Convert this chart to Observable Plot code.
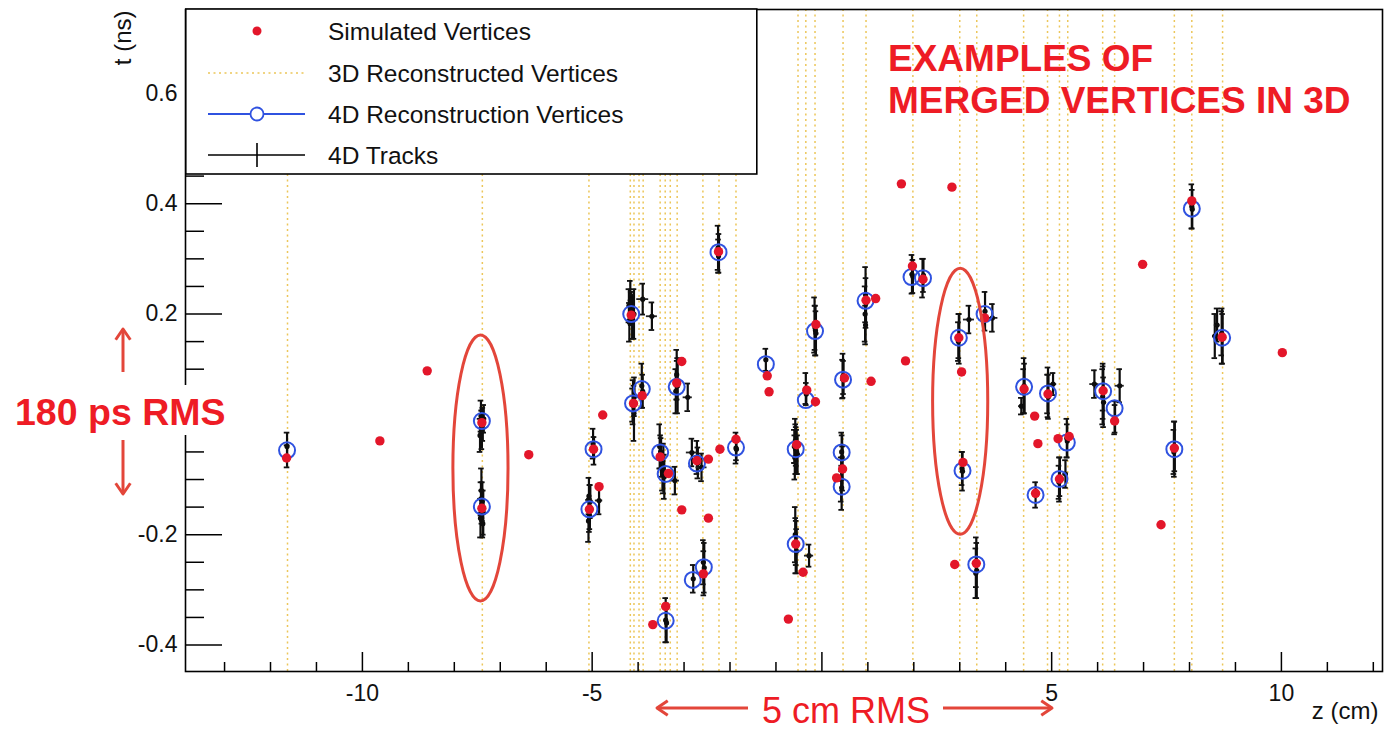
<!DOCTYPE html>
<html><head><meta charset="utf-8">
<script src="https://cdn.jsdelivr.net/npm/d3@7"></script>
<script src="https://cdn.jsdelivr.net/npm/@observablehq/plot@0.6"></script>
<style>
body{margin:0;background:#fff;}
#chart{position:relative;width:1388px;height:734px;}
</style></head><body><div id="chart"></div>
<script>
// ---------------- DATA ----------------
// 3D reconstructed vertices (z positions, cm)
const reco3DZ = [-11.63,-7.39,-5.07,-4.17,-4.09,-3.98,-3.89,-3.52,-3.41,-3.30,-3.15,-2.59,-2.24,-1.87,
  -0.52,-0.35,-0.15,0.46,0.96,1.98,3.00,3.37,4.39,4.91,5.17,5.35,6.11,6.37,7.67,8.05,8.72];

// Simulated vertices
const simZ = [-11.65,-9.62,-8.59,-7.40,-7.40,
  -6.38,-4.77,-4.85,-5.06,-4.97,-4.15,-4.10,-3.91,-3.05,-3.16,-3.52,-3.34,-3.05,-2.72,-2.47,-2.47,-2.22,-1.87,-2.25,-2.58,-3.40,-3.68,
  1.73,2.83,1.97,2.20,1.17,0.96,-0.13,1.82,1.07,0.49,-1.19,-1.15,-0.33,-0.14,2.98,3.04,3.54,-0.55,0.45,0.32,3.07,-0.57,-0.41,-0.73,2.89,3.36,
  8.05,6.98,8.71,4.40,4.92,4.63,6.12,6.37,4.70,5.14,5.38,5.17,4.65,7.67,7.38,10.02];
const simT = [-0.061,-0.030,0.097,0.003,-0.152,
  -0.055,0.017,-0.113,-0.154,-0.045,0.198,0.038,0.052,0.114,0.075,-0.059,-0.089,-0.155,-0.066,-0.063,-0.170,-0.045,-0.027,0.313,-0.271,-0.330,-0.363,
  0.436,0.430,0.287,0.263,0.228,0.225,0.181,0.115,0.078,0.084,0.088,0.059,0.062,0.041,0.157,0.095,0.193,-0.037,-0.081,-0.097,-0.069,-0.217,-0.268,-0.353,-0.254,-0.252,
  0.405,0.290,0.158,0.064,0.055,0.015,0.061,0.006,-0.035,-0.026,-0.022,-0.099,-0.125,-0.043,-0.182,0.130];

// 4D reconstruction vertices
const recoZ = [-11.64,-7.40,-7.40,-4.97,-5.06,-4.15,-4.11,-3.92,-3.16,-3.52,-3.40,-2.72,-1.87,-2.25,-2.81,-2.57,-3.40,
  -1.22,-0.35,-0.15,0.46,0.95,1.95,2.20,2.98,-0.57,0.43,0.43,3.06,-0.57,3.36,3.54,
  8.05,8.71,4.40,4.92,6.12,6.37,5.33,5.17,4.65,7.67];
const recoT = [-0.047,0.006,-0.149,-0.045,-0.154,0.200,0.038,0.064,0.068,-0.051,-0.090,-0.071,-0.042,0.312,-0.282,-0.259,-0.356,
  0.109,0.044,0.169,0.081,0.224,0.267,0.265,0.157,-0.045,-0.051,-0.113,-0.084,-0.217,-0.254,0.200,
  0.391,0.157,0.068,0.056,0.060,0.029,-0.033,-0.099,-0.128,-0.045];

// 4D tracks (z, t, sigma t), grouped by vertex
const trkZ = [
  -11.64,-11.64,
  -7.42,-7.38,-7.40,-7.36,-7.44,-7.40,
  -7.41,-7.39,-7.40,-7.37,-7.43,-7.40,-7.42,-7.38,
  -4.98,-4.96,
  -5.07,-5.05,-5.06,-5.08,-5.04,
  -4.17,-4.15,-4.13,-4.19,-4.09,-4.20,
  -4.11,-4.09,-4.12,-4.08,-3.92,-3.90,
  -3.16,-3.14,-3.18,-3.15,
  -3.53,-3.51,-3.50,-3.45,-3.43,-3.47,
  -2.72,-2.70,
  -2.26,-2.24,-2.25,
  -2.58,-2.56,-2.57,-2.80,
  -3.40,-3.38,
  -1.87,-1.86,
  -1.22,
  -0.16,-0.14,-0.15,-0.13,
  -0.35,-0.34,
  -0.58,-0.56,-0.57,-0.55,-0.59,-0.53,-0.60,
  -0.58,-0.56,-0.57,-0.55,
  0.46,0.45,0.47,
  0.43,0.44,0.42,0.43,0.45,
  0.95,0.96,0.94,0.95,
  1.96,1.98,2.19,2.21,
  2.98,2.99,2.97,
  3.06,3.05,
  3.36,3.37,3.35,
  3.55,
  4.40,4.41,4.39,
  4.92,4.93,4.91,
  5.33,5.34,
  5.17,5.18,5.16,
  4.65,
  6.12,6.11,6.13,6.12,
  6.37,6.38,
  7.67,7.68,7.66,
  8.05,8.06,
  8.71,8.72,8.70];
const trkT = [
  -0.040,-0.058,
  0.015,0.000,-0.010,0.010,-0.020,0.005,
  -0.120,-0.140,-0.150,-0.160,-0.170,-0.145,-0.135,-0.180,
  -0.035,-0.048,
  -0.130,-0.150,-0.165,-0.175,-0.140,
  0.225,0.210,0.195,0.185,0.200,0.215,
  0.040,0.020,0.035,0.050,0.070,0.060,
  0.090,0.070,0.060,0.080,
  -0.040,-0.050,-0.060,-0.080,-0.095,-0.090,
  -0.060,-0.070,
  0.320,0.310,0.305,
  -0.250,-0.260,-0.270,-0.280,
  -0.355,-0.360,
  -0.043,-0.045,
  0.117,
  0.180,0.170,0.175,0.165,
  0.065,0.055,
  -0.030,-0.040,-0.045,-0.050,-0.060,-0.055,-0.040,
  -0.200,-0.215,-0.220,-0.230,
  0.088,0.082,0.085,
  -0.050,-0.060,-0.100,-0.115,-0.080,
  0.235,0.220,0.200,0.180,
  0.272,0.268,0.265,0.270,
  0.160,0.155,0.150,
  -0.085,-0.080,
  -0.250,-0.265,-0.270,
  0.205,
  0.070,0.065,0.060,
  0.058,0.050,0.055,
  -0.025,-0.030,
  -0.100,-0.095,-0.105,
  -0.128,
  0.060,0.050,0.040,0.065,
  0.012,0.010,
  -0.045,-0.040,-0.050,
  0.395,0.390,
  0.160,0.155,0.165];
const trkErrT = [
  0.025,0.020,
  0.028,0.030,0.035,0.025,0.030,0.020,
  0.040,0.035,0.030,0.040,0.035,0.025,0.030,0.025,
  0.027,0.025,
  0.033,0.040,0.030,0.038,0.030,
  0.035,0.030,0.040,0.035,0.045,0.030,
  0.040,0.050,0.030,0.035,0.040,0.030,
  0.045,0.050,0.040,0.035,
  0.040,0.030,0.035,0.045,0.040,0.030,
  0.030,0.028,
  0.040,0.035,0.030,
  0.040,0.045,0.040,0.025,
  0.040,0.035,
  0.028,0.020,
  0.020,
  0.050,0.045,0.040,0.040,
  0.028,0.020,
  0.040,0.035,0.045,0.040,0.040,0.035,0.030,
  0.050,0.040,0.050,0.040,
  0.040,0.035,0.030,
  0.035,0.040,0.040,0.040,0.040,
  0.050,0.045,0.050,0.035,
  0.035,0.030,0.035,0.030,
  0.040,0.045,0.035,
  0.035,0.030,
  0.045,0.050,0.045,
  0.035,
  0.050,0.045,0.040,
  0.045,0.040,0.035,
  0.035,0.030,
  0.040,0.035,0.030,
  0.023,
  0.050,0.050,0.045,0.040,
  0.030,0.025,
  0.050,0.045,0.040,
  0.040,0.035,
  0.050,0.045,0.040];
// 4D tracks with a visible z uncertainty (drawn as crosses)
const crossZ    = [-4.85,-3.90,-3.70,-2.92,-3.20,-2.83,-2.62,-0.28,3.20,3.71,4.34,5.03,5.30,5.93,6.48,8.55,8.60];
const crossT    = [-0.138,0.227,0.196,0.049,-0.102,-0.051,-0.078,-0.238,0.190,0.193,0.033,0.073,-0.090,0.073,0.070,0.160,0.180];
const crossErrT = [0.025,0.028,0.025,0.025,0.025,0.025,0.025,0.020,0.025,0.025,0.015,0.020,0.025,0.025,0.030,0.040,0.030];
const crossErrZ = [0.08,0.13,0.12,0.10,0.10,0.12,0.12,0.10,0.12,0.12,0.06,0.08,0.06,0.10,0.10,0.05,0.06];

// Axis ticks and labels
const xMajorTicks = [-10,-5,0,5,10];
const xMinorTicks = [-13,-12,-11,-9,-8,-7,-6,-4,-3,-2,-1,1,2,3,4,6,7,8,9,11,12];
const xTickLabels = [-10,-5,5,10];
const yMajorTicks = [-0.4,-0.2,0,0.2,0.4,0.6];
const yMinorTicks = [-0.35,-0.3,-0.25,-0.15,-0.1,-0.05,0.05,0.1,0.15,0.25,0.3,0.35,0.45,0.5,0.55,0.65,0.7];
const yTickLabels = [-0.4,-0.2,0.2,0.4,0.6];

const legendLabels = ["Simulated Vertices","3D Reconstructed Vertices","4D Reconstruction Vertices","4D Tracks"];
const xTitle = "z (cm)", yTitle = "t (ns)";
const noteTitle = ["EXAMPLES OF","MERGED VERTICES IN 3D"];
const noteT = "180 ps RMS", noteZ = "5 cm RMS";
// merged-vertex highlight ellipses: center z, center t
const ellipseZ = [-7.42, 3.02];
const ellipseT = [-0.080, 0.041];

// ---------------- LAYOUT ----------------
const W = 1388, H = 734;
const ML = 185, MR = 6, MT = 9, MB = 63;
const xDom = [-13.85, 12.2], yDom = [-0.448, 0.752];
const pxPerZ = (W - ML - MR) / (xDom[1] - xDom[0]);
const pxPerT = (H - MT - MB) / (yDom[1] - yDom[0]);
const zLen = px => px / pxPerZ, tLen = px => px / pxPerT;

const FONT = "'Liberation Sans', Arial, Helvetica, sans-serif";
const RED = "#e3162a", BLUE = "#2f52e0", LINE3D = "#ecc659", ANN = "#e3463a", TXTRED = "#ee1c25";

const sim = simZ.map((z, i) => ({z, t: simT[i]}));
const reco = recoZ.map((z, i) => ({z, t: recoT[i]}));
const tracks = trkZ.map((z, i) => ({z, t: trkT[i], et: trkErrT[i], ez: 0}))
  .concat(crossZ.map((z, i) => ({z, t: crossT[i], et: crossErrT[i], ez: crossErrZ[i]})));
const crosses = tracks.filter(d => d.ez > 0);
const capZ = zLen(2.8);

function annotations(index, scales, values, dims) {
  const g = d3.create("svg:g").attr("font-family", FONT).attr("text-anchor", "start");
  // ellipses
  ellipseZ.forEach((cz, i) => {
    const cx = scales.x(cz), cy = scales.y(ellipseT[i]);
    g.append("ellipse").attr("cx", cx).attr("cy", cy)
      .attr("rx", Math.abs(scales.x(cz + 0.6) - cx)).attr("ry", Math.abs(scales.y(ellipseT[i] + 0.241) - cy))
      .attr("fill", "none").attr("stroke", ANN).attr("stroke-width", 3);
  });
  // 180 ps RMS
  g.append("rect").attr("x", 14).attr("y", 385).attr("width", 220).attr("height", 50).attr("fill", "white");
  g.append("text").attr("x", 15).attr("y", 425).attr("font-size", 37.5).attr("font-weight", "bold")
    .attr("text-anchor", "start").attr("fill", TXTRED).text(noteT);
  const arrow = (x1, y1, x2, y2) => {
    g.append("line").attr("x1", x1).attr("y1", y1).attr("x2", x2).attr("y2", y2)
      .attr("stroke", ANN).attr("stroke-width", 3);
    const a = Math.atan2(y2 - y1, x2 - x1), L = 13, s = 0.6;
    g.append("polyline").attr("points",
      `${x2 - L*Math.cos(a - s)},${y2 - L*Math.sin(a - s)} ${x2},${y2} ${x2 - L*Math.cos(a + s)},${y2 - L*Math.sin(a + s)}`)
      .attr("fill", "none").attr("stroke", ANN).attr("stroke-width", 3).attr("stroke-linejoin", "round");
  };
  arrow(123, 372, 123, 329);
  arrow(123, 440, 123, 494);
  // 5 cm RMS
  g.append("text").attr("x", 846).attr("y", 723).attr("font-size", 36).attr("text-anchor", "middle")
    .attr("fill", TXTRED).text(noteZ);
  arrow(748, 708, 657, 708);
  arrow(943, 708, 1052, 708);
  // title note
  noteTitle.forEach((s, i) => g.append("text").attr("x", 888).attr("y", 71 + i * 42)
    .attr("font-size", 37).attr("font-weight", "bold").attr("text-anchor", "start").attr("fill", TXTRED).text(s));
  return g.node();
}

function legend(index, scales, values, dims) {
  const x0 = dims.marginLeft, y0 = dims.marginTop;
  const g = d3.create("svg:g").attr("font-family", FONT).attr("text-anchor", "start");
  g.append("rect").attr("x", x0 + 0.8).attr("y", y0).attr("width", 571).attr("height", 165)
    .attr("fill", "white").attr("stroke", "black").attr("stroke-width", 1.6);
  const rowY = [22, 64, 105, 146].map(v => v + y0);
  const sx = x0 + 72, l1 = x0 + 23, l2 = x0 + 120;
  g.append("circle").attr("cx", sx).attr("cy", rowY[0]).attr("r", 4.5).attr("fill", RED);
  g.append("line").attr("x1", l1).attr("x2", l2).attr("y1", rowY[1]).attr("y2", rowY[1])
    .attr("stroke", LINE3D).attr("stroke-width", 1.6).attr("stroke-dasharray", "2,3.5");
  g.append("line").attr("x1", l1).attr("x2", l2).attr("y1", rowY[2]).attr("y2", rowY[2])
    .attr("stroke", BLUE).attr("stroke-width", 1.8);
  g.append("circle").attr("cx", sx).attr("cy", rowY[2]).attr("r", 6.5).attr("fill", "white")
    .attr("stroke", BLUE).attr("stroke-width", 1.8);
  g.append("line").attr("x1", l1).attr("x2", l2).attr("y1", rowY[3]).attr("y2", rowY[3])
    .attr("stroke", "black").attr("stroke-width", 1.6);
  g.append("line").attr("x1", sx).attr("x2", sx).attr("y1", rowY[3] - 12).attr("y2", rowY[3] + 12)
    .attr("stroke", "black").attr("stroke-width", 1.6);
  legendLabels.forEach((s, i) => g.append("text").attr("x", x0 + 143).attr("y", rowY[i] + 8.5)
    .attr("font-size", 24.5).attr("text-anchor", "start").attr("fill", "#111").text(s));
  return g.node();
}

const chart = Plot.plot({
  width: W, height: H,
  marginLeft: ML, marginRight: MR, marginTop: MT, marginBottom: MB,
  x: {domain: xDom, axis: null},
  y: {domain: yDom, axis: null},
  style: {background: "white", color: "black", fontFamily: FONT},
  marks: [
    Plot.ruleX(reco3DZ, {x: d => d, stroke: LINE3D, strokeWidth: 1.5, strokeDasharray: "2,3.5"}),
    // tracks
    Plot.ruleX(tracks, {x: "z", y1: d => d.t - d.et, y2: d => d.t + d.et, stroke: "#0d0d0d", strokeWidth: 2.2}),
    Plot.ruleY(tracks, {y: d => d.t + d.et, x1: d => d.z - capZ, x2: d => d.z + capZ, stroke: "#111", strokeWidth: 1.8}),
    Plot.ruleY(tracks, {y: d => d.t - d.et, x1: d => d.z - capZ, x2: d => d.z + capZ, stroke: "#111", strokeWidth: 1.8}),
    Plot.ruleY(crosses, {y: "t", x1: d => d.z - d.ez, x2: d => d.z + d.ez, stroke: "#222", strokeWidth: 1.8}),
    Plot.dot(tracks, {x: "z", y: "t", r: 2.6, fill: "#0d0d0d"}),
    // 4D vertices and simulated vertices
    Plot.dot(reco, {x: "z", y: "t", r: 8, stroke: BLUE, strokeWidth: 2, fill: "none"}),
    Plot.dot(sim, {x: "z", y: "t", r: 4.7, fill: RED}),
    // frame and ticks
    Plot.frame({stroke: "black", strokeWidth: 1.6}),
    Plot.ruleX(xMajorTicks, {x: d => d, y1: yDom[0], y2: yDom[0] + tLen(19), stroke: "black", strokeWidth: 1.5}),
    Plot.ruleX(xMinorTicks, {x: d => d, y1: yDom[0], y2: yDom[0] + tLen(9), stroke: "black", strokeWidth: 1.5}),
    Plot.ruleY(yMajorTicks, {y: d => d, x1: xDom[0], x2: xDom[0] + zLen(37), stroke: "black", strokeWidth: 1.5}),
    Plot.ruleY(yMinorTicks, {y: d => d, x1: xDom[0], x2: xDom[0] + zLen(19), stroke: "black", strokeWidth: 1.5}),
    Plot.text(xTickLabels, {x: d => d, y: yDom[0], dy: 22, text: d => String(d), fontSize: 23, fill: "#111"}),
    Plot.text(yTickLabels, {x: xDom[0], y: d => d, dx: -8, textAnchor: "end", text: d => d.toFixed(1), fontSize: 23, fill: "#111"}),
    Plot.text([xTitle], {frameAnchor: "bottom-right", dx: -4, dy: 47, textAnchor: "end", text: d => d, fontSize: 24, fill: "#111"}),
    Plot.text([yTitle], {frameAnchor: "top-left", dx: -72, dy: 1, rotate: -90, textAnchor: "end", text: d => d, fontSize: 24, fill: "#111"}),
    annotations,
    legend
  ]
});
document.getElementById("chart").appendChild(chart);
</script></body></html>
